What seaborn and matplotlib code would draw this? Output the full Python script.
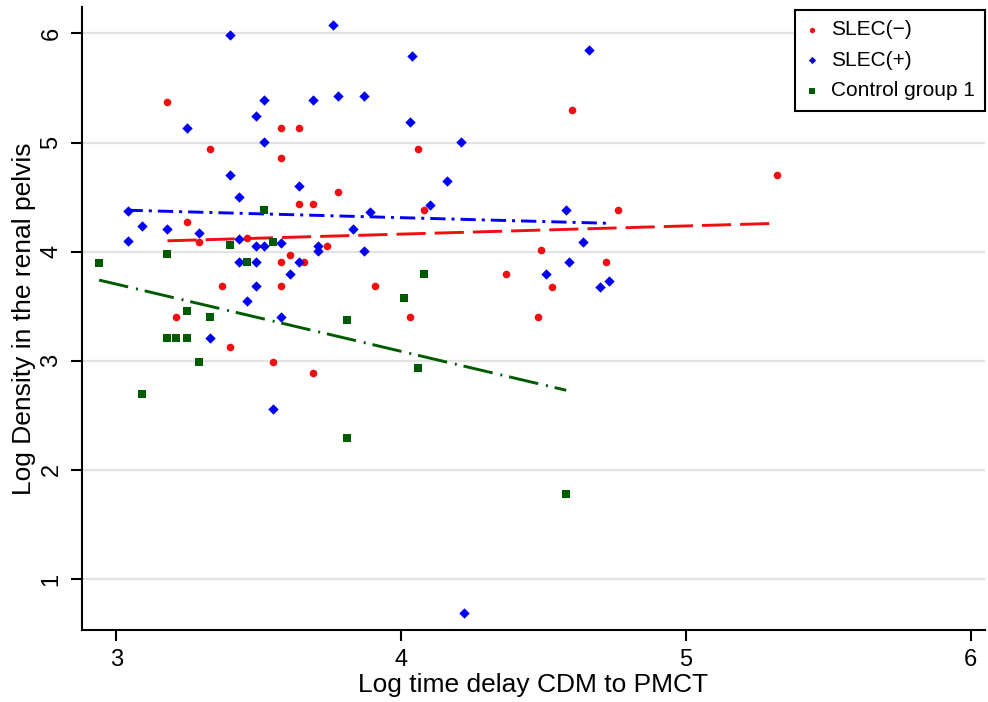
import numpy as np
import pandas as pd
import seaborn as sns
import matplotlib.pyplot as plt

sns.set_theme(style='white')
plt.rcParams['font.family'] = ['Liberation Sans', 'DejaVu Sans']
plt.rcParams['lines.scale_dashes'] = False
plt.rcParams['text.color'] = 'black'
plt.rcParams['axes.labelcolor'] = 'black'
plt.rcParams['xtick.color'] = 'black'
plt.rcParams['ytick.color'] = 'black'

groups = ['SLEC(−)', 'SLEC(+)', 'Control group 1']

# SLEC(-)
neg_x = [3.18, 3.58, 3.64, 3.33, 3.58, 3.78, 3.64, 3.69, 3.25, 3.29, 3.46, 3.74,
         3.61, 3.58, 3.66, 3.37, 3.58, 3.91, 3.21, 3.40, 3.55, 3.69, 4.03, 4.60,
         4.06, 5.32, 4.08, 4.76, 4.49, 4.37, 4.72, 4.53, 4.48]
neg_y = [5.37, 5.13, 5.13, 4.94, 4.86, 4.55, 4.44, 4.44, 4.27, 4.09, 4.13, 4.05,
         3.97, 3.91, 3.91, 3.69, 3.69, 3.69, 3.40, 3.13, 2.99, 2.89, 3.40, 5.30,
         4.94, 4.70, 4.38, 4.38, 4.02, 3.80, 3.91, 3.68, 3.40]

# SLEC(+)
pos_x = [3.40, 3.76, 3.52, 3.69, 3.78, 3.87, 3.49, 3.25, 3.52, 3.40, 3.43, 3.64,
         3.04, 3.89, 3.09, 3.18, 3.29, 3.04, 3.43, 3.49, 3.52, 3.58, 3.83, 3.71,
         3.71, 3.87, 3.43, 3.49, 3.64, 3.61, 3.49, 3.46, 3.58, 3.33, 3.55, 4.04,
         4.66, 4.03, 4.21, 4.16, 4.10, 4.58, 4.64, 4.59, 4.51, 4.70, 4.73, 4.22]
pos_y = [5.99, 6.08, 5.39, 5.39, 5.43, 5.43, 5.24, 5.13, 5.01, 4.70, 4.50, 4.60,
         4.37, 4.36, 4.24, 4.21, 4.17, 4.10, 4.12, 4.05, 4.05, 4.08, 4.21, 4.05,
         4.01, 4.01, 3.91, 3.91, 3.91, 3.80, 3.69, 3.55, 3.40, 3.21, 2.56, 5.79,
         5.85, 5.19, 5.01, 4.65, 4.43, 4.38, 4.09, 3.91, 3.80, 3.68, 3.73, 0.69]

# Control group 1
ctl_x = [3.52, 3.55, 3.40, 3.18, 2.94, 3.46, 3.25, 3.33, 3.81, 3.18, 3.21, 3.25,
         3.29, 3.09, 3.81, 4.01, 4.06, 4.08, 4.58]
ctl_y = [4.38, 4.09, 4.06, 3.98, 3.90, 3.91, 3.46, 3.40, 3.37, 3.21, 3.21, 3.21,
         2.99, 2.70, 2.29, 3.58, 2.93, 3.80, 1.78]

# linear fits (intercept, slope)
fit_intercept = [3.862, 4.596, 5.551]
fit_slope = [0.0748, -0.071, -0.616]

colors = {'SLEC(−)': '#ee1010', 'SLEC(+)': '#0000f5', 'Control group 1': '#005a00'}
markers = {'SLEC(−)': 'o', 'SLEC(+)': 'D', 'Control group 1': 's'}
sizes = {'SLEC(−)': 30, 'SLEC(+)': 28, 'Control group 1': 28}
dashes = {'SLEC(−)': (21, 6.5), 'SLEC(+)': (11, 4.3, 2.2, 4.3),
          'Control group 1': (21.5, 5.8, 1.4, 5.0)}

df = pd.concat([
    pd.DataFrame({'x': neg_x, 'y': neg_y, 'group': groups[0]}),
    pd.DataFrame({'x': pos_x, 'y': pos_y, 'group': groups[1]}),
    pd.DataFrame({'x': ctl_x, 'y': ctl_y, 'group': groups[2]}),
], ignore_index=True)

fit_rows = []
for g, b0, b1 in zip(groups, fit_intercept, fit_slope):
    sub = df[df['group'] == g]
    for xv in (sub['x'].min(), sub['x'].max()):
        fit_rows.append({'x': xv, 'y': b0 + b1 * xv, 'group': g})
fit_df = pd.DataFrame(fit_rows)

fig = plt.figure(figsize=(9.88, 7.02), dpi=100)
ax = fig.add_axes([0.083, 0.1026, 0.914, 0.887])

for g in groups:
    sub = df[df['group'] == g]
    sns.scatterplot(data=sub, x='x', y='y', color=colors[g], marker=markers[g],
                    s=sizes[g], linewidth=0, label=g, ax=ax, zorder=3)

sns.lineplot(data=fit_df, x='x', y='y', hue='group', style='group',
             hue_order=groups, style_order=groups, palette=colors,
             dashes=dashes, linewidth=2.1, legend=False, ax=ax, zorder=2)

ax.set_xlim(2.88, 6.05)
ax.set_ylim(0.533, 6.24)
ax.set_xticks([3, 4, 5, 6])
ax.set_yticks([1, 2, 3, 4, 5, 6])
ax.yaxis.grid(True, color='#e3e3e3', linewidth=1.6)
ax.xaxis.grid(False)
ax.set_axisbelow(True)

for side in ['top', 'right']:
    ax.spines[side].set_visible(False)
for side in ['left', 'bottom']:
    ax.spines[side].set_color('black')
    ax.spines[side].set_linewidth(1.5)

ax.tick_params(axis='both', direction='out', length=8, width=1.5, color='black',
               labelsize=17, pad=6, bottom=True, left=True)
for lab in ax.get_yticklabels():
    lab.set_rotation(90)
    lab.set_va('center')

ax.set_xlabel('Log time delay CDM to PMCT', fontsize=19, labelpad=1)
ax.set_ylabel('Log Density in the renal pelvis', fontsize=19, labelpad=3)

leg = ax.legend(loc='upper right', bbox_to_anchor=(985 / 988, 692 / 702),
                bbox_transform=fig.transFigure, borderaxespad=0, fontsize=15,
                frameon=True, fancybox=False, edgecolor='black', framealpha=1,
                markerscale=0.7, handlelength=0.6, handletextpad=0.6,
                labelspacing=0.55, borderpad=0.5)
leg.get_frame().set_linewidth(1.5)

fig.savefig('out.png', dpi=100)
